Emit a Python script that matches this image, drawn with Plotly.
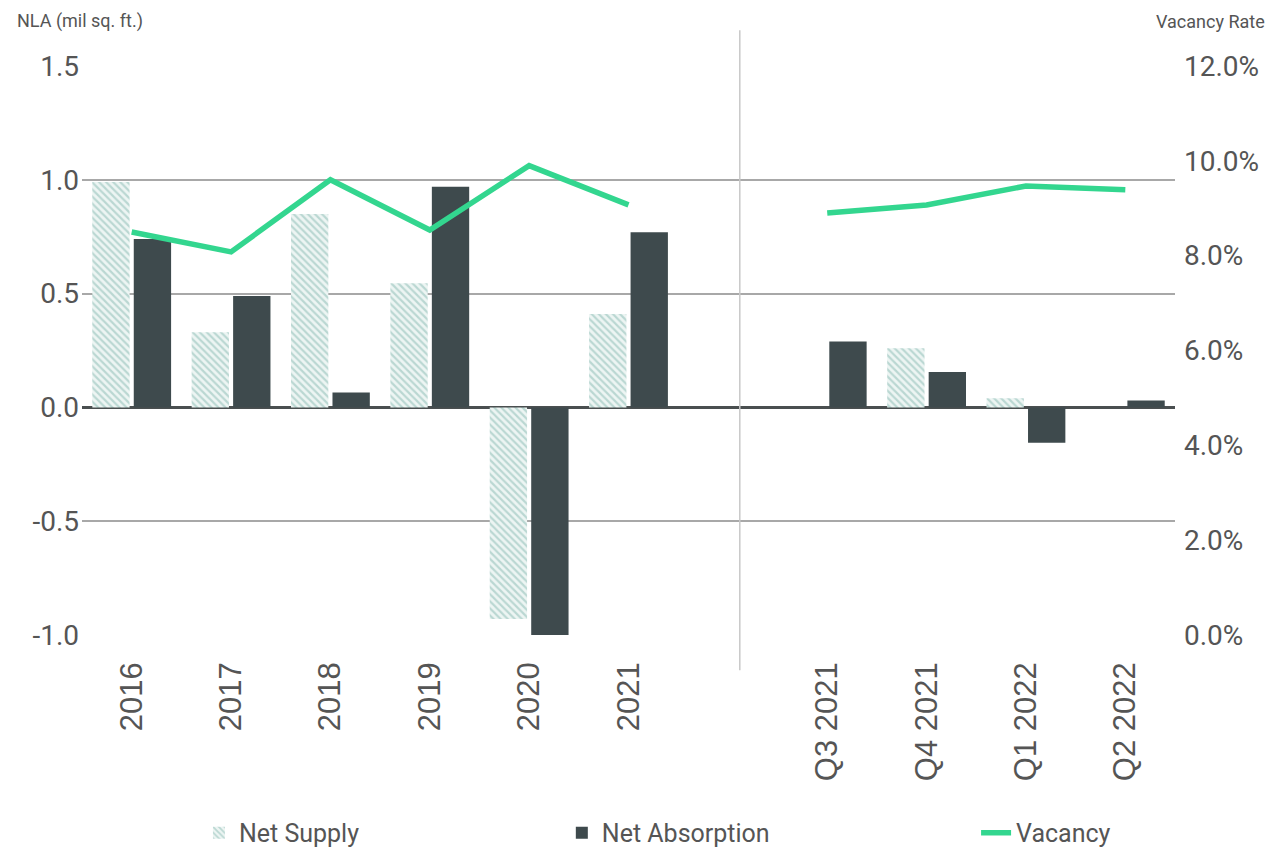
import plotly.graph_objects as go

categories = ["2016", "2017", "2018", "2019", "2020", "2021", "",
              "Q3 2021", "Q4 2021", "Q1 2022", "Q2 2022"]
net_supply = [0.99, 0.33, 0.85, 0.545, -0.93, 0.41, None, 0.0, 0.26, 0.04, 0.0]
net_absorption = [0.74, 0.49, 0.066, 0.97, -1.0, 0.77, None, 0.29, 0.155, -0.155, 0.03]
vacancy = [8.5, 8.08, 9.6, 8.54, 9.9, 9.07, None, 8.9, 9.07, 9.47, 9.39]

left_ticks = [-1.0, -0.5, 0.0, 0.5, 1.0, 1.5]
left_labels = ["-1.0", "-0.5", "0.0", "0.5", "1.0", "1.5"]
right_ticks = [0, 2, 4, 6, 8, 10, 12]
right_labels = ["0.0%", "2.0%", "4.0%", "6.0%", "8.0%", "10.0%", "12.0%"]

xpos = list(range(len(categories)))
tick_pos = [i for i, c in enumerate(categories) if c]
tick_txt = [c for c in categories if c]

fig = go.Figure()
fig.add_trace(go.Bar(
    x=xpos, y=net_supply, name="Net Supply", legend="legend",
    marker=dict(color="white", line=dict(width=0),
                pattern=dict(shape="\\", fgcolor="#88bab2", bgcolor="#edf5f3",
                             size=5, solidity=0.45)),
))
fig.add_trace(go.Bar(
    x=xpos, y=net_absorption, name="Net Absorption", legend="legend2",
    marker=dict(color="#3e4a4d", line=dict(width=0)),
))
fig.add_trace(go.Scatter(
    x=xpos, y=vacancy, name="Vacancy", yaxis="y2", mode="lines", legend="legend3",
    line=dict(color="#33d68f", width=5.5), connectgaps=False,
))

fig.add_shape(type="line", xref="x", yref="paper", x0=6.12, x1=6.12,
              y0=-0.062, y1=1.063, line=dict(color="#c8c8c8", width=1.5))

legend_common = dict(orientation="h", yref="container", y=0.0351, yanchor="middle",
                     xanchor="left",
                     font=dict(size=25, family="Roboto, Liberation Sans", color="#555555"),
                     bgcolor="rgba(0,0,0,0)")

fig.update_layout(
    width=1274, height=855,
    paper_bgcolor="white", plot_bgcolor="white",
    margin=dict(l=74, r=107, t=58, b=228),
    barmode="group", bargap=0.165, bargroupgap=0.1,
    font=dict(family="Roboto, Liberation Sans, sans-serif", color="#555555"),
    xaxis=dict(range=[-0.5, 10.5], tickmode="array", tickvals=tick_pos,
               ticktext=tick_txt, tickangle=-90, automargin=False,
               tickfont=dict(size=31, family="Liberation Sans, Arial", color="#555555"),
               showgrid=False, showline=False, zeroline=False, ticks="",
               ticklabelstandoff=20),
    yaxis=dict(range=[-1.0, 1.5], tickmode="array", tickvals=left_ticks,
               ticktext=left_labels, tickfont=dict(size=28, color="#555555"),
               showgrid=True, gridcolor="#a8a8a8", gridwidth=1.5, automargin=False,
               zeroline=True, zerolinecolor="#4a4f50", zerolinewidth=3,
               showline=False, ticks="", ticklabelstandoff=2),
    yaxis2=dict(range=[0, 12], overlaying="y", side="right", tickmode="array",
                tickvals=right_ticks, ticktext=right_labels, automargin=False,
                tickfont=dict(size=28, color="#555555"),
                showgrid=False, zeroline=False, showline=False, ticks="",
                ticklabelstandoff=8),
    legend=dict(x=0.107, **legend_common),
    legend2=dict(x=0.439, **legend_common),
    legend3=dict(x=0.818, **legend_common),
    showlegend=True,
)

fig.add_annotation(text="NLA (mil sq. ft.)", xref="paper", yref="paper",
                   x=-0.0613, y=1.079, xanchor="left", yanchor="middle",
                   showarrow=False, font=dict(size=18, color="#555555"))
fig.add_annotation(text="Vacancy Rate", xref="paper", yref="paper",
                   x=1.0845, y=1.079, xanchor="right", yanchor="middle",
                   showarrow=False, font=dict(size=18, color="#555555"))

fig.write_html("out.html")
